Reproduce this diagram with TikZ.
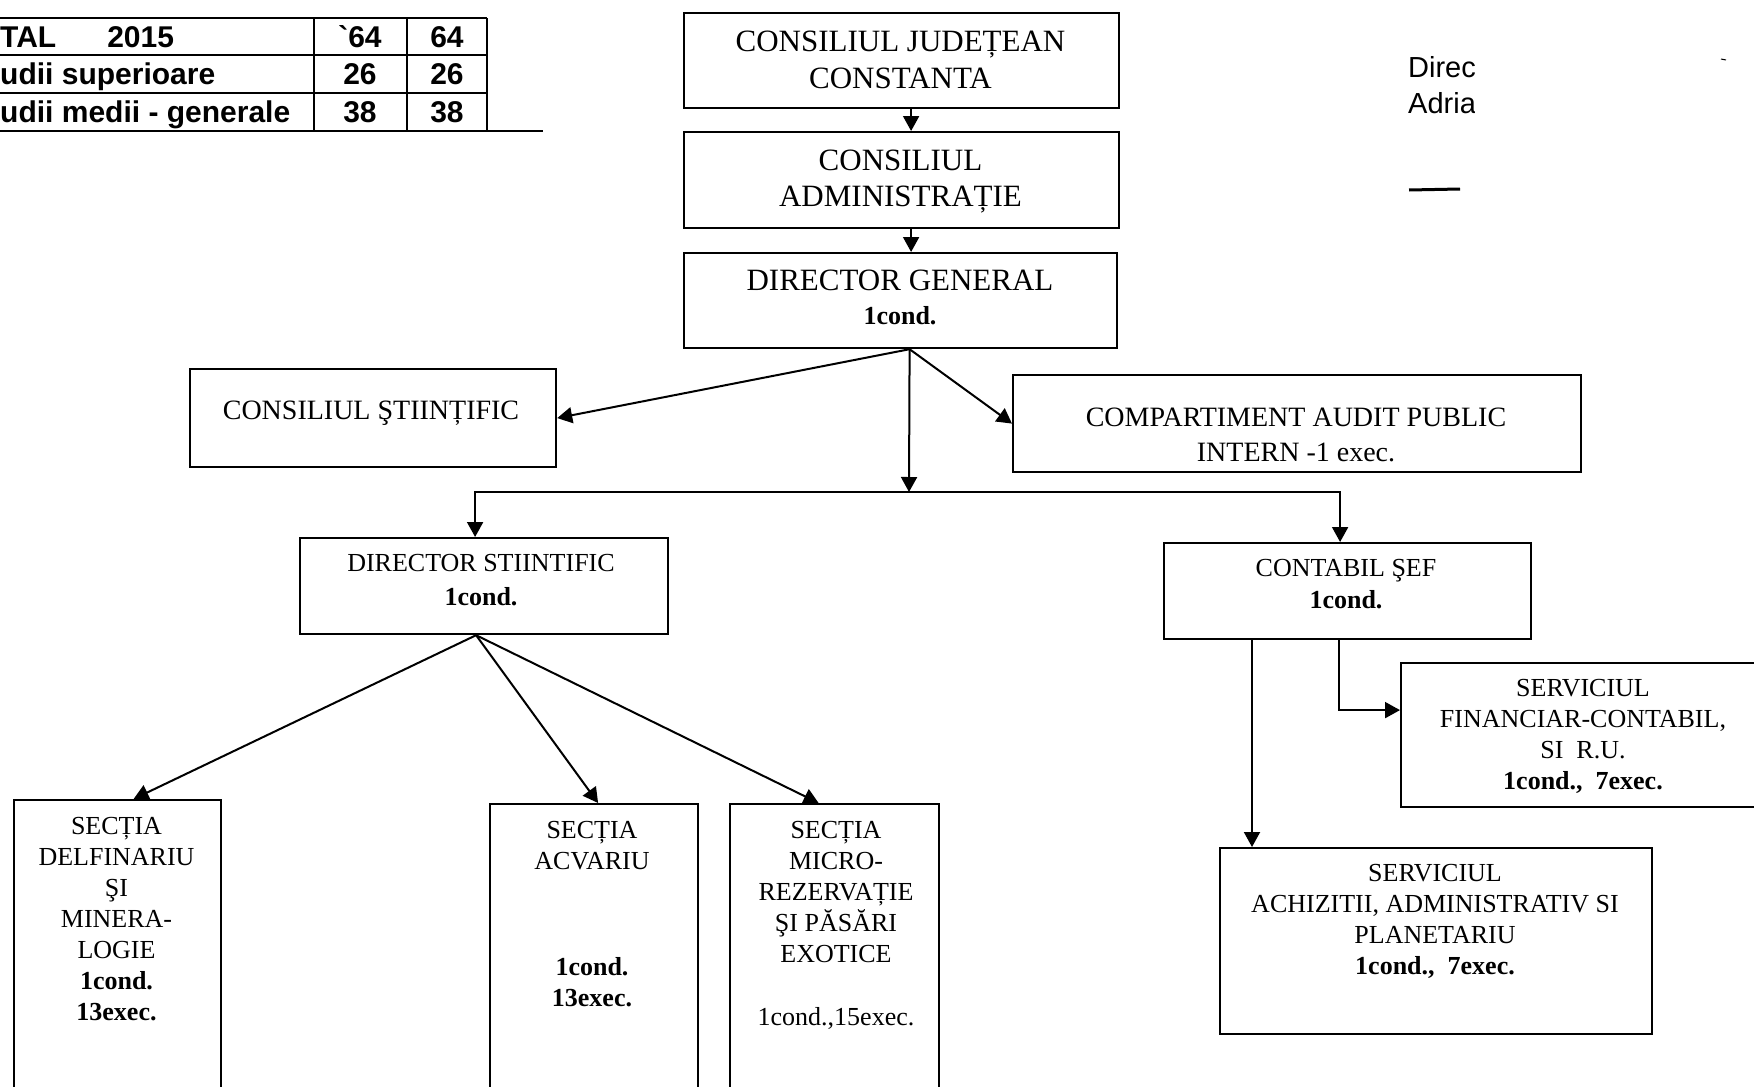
\documentclass[tikz,border=0pt]{standalone}
\usepackage{fontspec}
\setmainfont{Liberation Serif}
\newfontfamily\arialfam{Liberation Sans}
\usetikzlibrary{arrows.meta}
\newcommand\fTopSz{\fontsize{31}{36.5}\selectfont}
\newcommand\fMidSz{\fontsize{28}{35}\selectfont}
\newcommand\fSmSz{\fontsize{26}{31}\selectfont}
\begin{document}
\begin{tikzpicture}[x=1pt,y=-1pt,
  box/.style={draw, line width=2.2pt, inner sep=0pt, anchor=north west},
  conn/.style={line width=2pt, -{Triangle[length=15pt,width=16pt]}},
  txt/.style={align=center, inner sep=0pt},
  tbl/.style={line width=2pt},
  tbltxt/.style={inner sep=0pt, font=\arialfam\bfseries\fontsize{30}{36}\selectfont}]
\useasboundingbox (0,0) rectangle (1754,1087);
\clip (0,0) rectangle (1754,1087);

% ---------- table (top left) ----------
\draw[tbl] (0,18) -- (487,18);
\draw[tbl] (0,55) -- (487,55);
\draw[tbl] (0,93) -- (487,93);
\draw[line width=2.5pt] (0,131) -- (543,131);
\draw[tbl] (314,18) -- (314,131);
\draw[tbl] (407,18) -- (407,131);
\draw[tbl] (487,18) -- (487,131);
\node[tbltxt, anchor=base west] (r1a) at (0,47) {TAL\hspace{51pt}2015};
\node[tbltxt, anchor=base] (r1b) at (360,47) {`64};
\node[tbltxt, anchor=base] (r1c) at (447,47) {64};
\node[tbltxt, anchor=base west] (r2a) at (0,84) {udii superioare};
\node[tbltxt, anchor=base] (r2b) at (360,84) {26};
\node[tbltxt, anchor=base] (r2c) at (447,84) {26};
\node[tbltxt, anchor=base west] (r3a) at (0,122) {udii medii - generale};
\node[tbltxt, anchor=base] (r3b) at (360,122) {38};
\node[tbltxt, anchor=base] (r3c) at (447,122) {38};

% ---------- cut text at right ----------
\begin{scope}
\clip (1400,40) rectangle (1474,125);
\node[inner sep=0pt, anchor=base west, font=\arialfam\fontsize{29}{34}\selectfont] (dir) at (1408,77) {Direc};
\node[inner sep=0pt, anchor=base west, font=\arialfam\fontsize{29}{34}\selectfont] (adr) at (1408,113) {Adria};
\end{scope}
\draw[line width=3pt] (1409,190) -- (1460,189);
\draw[line width=1pt] (1721,59) -- (1726,60);

% ---------- boxes ----------
\node[box, minimum width=435pt, minimum height=95pt] (CJ) at (683,12) {};
\node[box, minimum width=435pt, minimum height=96pt] (CA) at (683,131) {};
\node[box, minimum width=433pt, minimum height=95pt] (DG) at (683,252) {};
\node[box, minimum width=366pt, minimum height=98pt] (CS) at (189,368) {};
\node[box, minimum width=568pt, minimum height=97pt] (CAP) at (1012,374) {};
\node[box, minimum width=368pt, minimum height=96pt] (DS) at (299,537) {};
\node[box, minimum width=367pt, minimum height=96pt] (CSEF) at (1163,542) {};
\node[box, minimum width=420pt, minimum height=144pt] (SF) at (1400,662) {};
\node[box, minimum width=432pt, minimum height=186pt] (SA) at (1219,847) {};
\node[box, minimum width=207pt, minimum height=340pt] (SD) at (13,799) {};
\node[box, minimum width=208pt, minimum height=340pt] (SAc) at (489,803) {};
\node[box, minimum width=209pt, minimum height=340pt] (SM) at (729,803) {};

% ---------- texts ----------
\node[txt, font=\fTopSz] (CJt) at (900.5,60) {CONSILIUL JUDEȚEAN\\CONSTANTA};
\node[txt, font=\fTopSz] (CAt) at (900.5,181.5) {CONSILIUL\\ADMINISTRAȚIE};
\node[txt, font=\fTopSz] (DGt1) at (900,280) {DIRECTOR GENERAL};
\node[txt, font=\fSmSz\bfseries] (DGt2) at (900,316) {1cond.};
\node[txt, font=\fMidSz] (CSt) at (371,413) {CONSILIUL ŞTIINȚIFIC};
\node[txt, font=\fMidSz] (CAPt) at (1296,434.5) {COMPARTIMENT AUDIT PUBLIC\\INTERN -1 exec.};
\node[txt, font=\fontsize{26}{34}\selectfont] (DSt) at (481,580) {DIRECTOR STIINTIFIC\\\textbf{1cond.}};
\node[txt, font=\fontsize{26}{32}\selectfont] (CSEFt) at (1346,584) {CONTABIL ŞEF\\\textbf{1cond.}};
\node[txt, font=\fSmSz] (SFt) at (1583,736.5) {SERVICIUL\\FINANCIAR-CONTABIL,\\SI\ \ R.U.\\\textbf{1cond.,\ \ 7exec.}};
\node[txt, font=\fSmSz] (SAt) at (1435,921.5) {SERVICIUL\\ACHIZITII, ADMINISTRATIV SI\\PLANETARIU\\\textbf{1cond.,\ \ 7exec.}};
\node[txt, font=\fSmSz] (SDt) at (116.5,919) {SECȚIA\\DELFINARIU\\ŞI\\MINERA-\\LOGIE\\\textbf{1cond.}\\\textbf{13exec.}};
\node[txt, font=\fSmSz] (SAct) at (592,914) {SECȚIA\\ACVARIU\\[75pt]\textbf{1cond.}\\\textbf{13exec.}};
\node[txt, font=\fSmSz] (SMt) at (836,925) {SECȚIA\\MICRO-\\REZERVAȚIE\\ŞI PĂSĂRI\\EXOTICE\\[32pt]1cond.,15exec.};

% ---------- connectors ----------
\draw[conn] ([xshift=9.5pt]CJ.south) -- ([xshift=9.5pt]CA.north);
\draw[conn] ([xshift=9.5pt]CA.south) -- ([xshift=9.5pt]CA.south |- DG.north);
\coordinate (bar) at (909,492);
\draw[conn] ([xshift=9pt]DG.south) -- (CS.east);
\draw[conn] ([xshift=9pt]DG.south) -- (CAP.west);
\draw[conn] ([xshift=9pt]DG.south) -- (bar);
\draw[conn] (bar) -| ([xshift=-9pt]DS.north);
\draw[conn] (bar) -| ([xshift=-7.5pt]CSEF.north);
\draw[conn] ([xshift=-8pt]DS.south) -- ([xshift=16pt]SD.north);
\draw[conn] ([xshift=-8pt]DS.south) -- ([xshift=4pt]SAc.north);
\draw[conn] ([xshift=-8pt]DS.south) -- ([xshift=-16pt]SM.north);
\draw[conn] ([xshift=89pt]CSEF.south west) -- ([xshift=33pt]SA.north west);
\draw[conn] ([xshift=-8.5pt]CSEF.south) |- ([yshift=25pt]SF.west);
\end{tikzpicture}
\end{document}
